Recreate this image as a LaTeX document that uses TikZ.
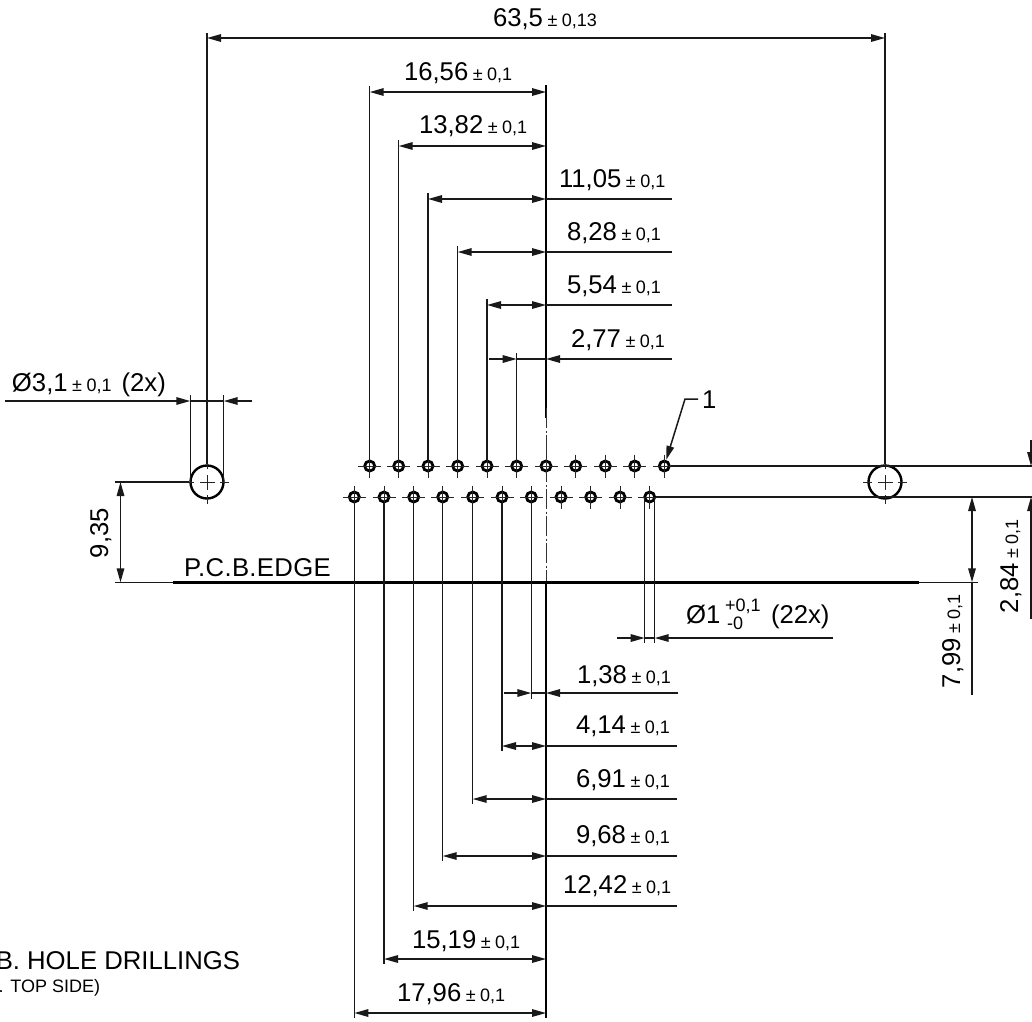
\documentclass[tikz,border=0pt]{standalone}
\usepackage{fontspec}
\setmainfont{Liberation Sans}
\usetikzlibrary{arrows.meta}
\newcommand{\bigf}{\fontsize{25.7}{28}\selectfont}
\newcommand{\smf}{\fontsize{18}{20}\selectfont}
\newcommand{\dmt}[2]{\bigf #1\hspace{4.5pt}\smf ±\hspace{4.5pt}#2}
\tikzset{
  ln/.style={line width=1.5pt,black!90},
  thickln/.style={line width=2.1pt,black},
  dimtip/.style={{Triangle[length=14pt,width=7.5pt]}-{Triangle[length=14pt,width=7.5pt]}},
  tipend/.style={-{Triangle[length=14pt,width=7.5pt]}},
  lab/.style={anchor=base west,inner sep=0pt,outer sep=0pt,black},
  labr/.style={anchor=base east,inner sep=0pt,outer sep=0pt,black},
  hole/.style={circle,draw=black,line width=2.8pt,minimum size=10pt,inner sep=0pt},
  bighole/.style={circle,draw=black,line width=2.4pt,minimum size=33pt,inner sep=0pt},
  crossln/.style={line width=1pt,black!85}
}
\begin{document}
\begin{tikzpicture}[x=1pt,y=-1pt]
\useasboundingbox (0,0) rectangle (1032,1021);
\clip (0,0) rectangle (1032,1021);
\fill[white] (0,0) rectangle (1032,1021);
% holes
\foreach \n/\x in {1/369.7,2/398.7,3/428,4/457.7,5/487,6/516.7,7/546,8/575.7,9/605.3,10/634.7,11/664.3}{
  \node[hole] (t\n) at (\x,466) {};
  \draw[crossln] (t\n.center) ++(-11.5,0) -- ++(23,0);
  \draw[crossln] (t\n.center) ++(0,-11.5) -- ++(0,23);
}
\foreach \n/\x in {1/354.3,2/384,3/413.7,4/442.7,5/472.7,6/502,7/531.3,8/561,9/590.7,10/620,11/649.7}{
  \node[hole] (b\n) at (\x,497) {};
  \draw[crossln] (b\n.center) ++(-11.5,0) -- ++(23,0);
  \draw[crossln] (b\n.center) ++(0,-11.5) -- ++(0,23);
}
\foreach \h/\x in {hl/207,hr/885}{
  \node[bighole] (\h) at (\x,482) {};
  \foreach \a in {0,90,180,270}{
    \draw[crossln,rotate around={\a:(\h.center)}] (\h.center) -- ++(7.5,0);
    \draw[crossln,rotate around={\a:(\h.center)}] (\x+13,482) -- ++(9,0);
  }
}
% reference coordinates
\coordinate (cl) at (546,466);
\coordinate (edgeL) at (115,582.3);
\coordinate (edgeA) at (173,582.3);
\coordinate (edgeB) at (919,582.3);
\coordinate (edgeR) at (978,582.3);
% centre line
\draw[thickln] (546,85) -- (546,418);
\draw[line width=1pt,black!80,dash pattern=on 20pt off 2.5pt on 2pt off 2.5pt] (546,408) -- (546,582);
\draw[thickln] (546,582) -- (546,1018);
% pcb edge
\draw[ln] (edgeL) -- (edgeA);
\draw[line width=3pt] (edgeA) -- (edgeB);
\draw[ln] (edgeB) -- (edgeR);
\node[lab] (pcb) at (184,576.7) {\bigf\addfontfeatures{LetterSpace=1.3}P.C.B.EDGE};
% overall dimension
\draw[ln] (hl) -- (207,33);
\draw[ln] (hr) -- (885,33);
\draw[ln,dimtip] (207,38) -- (885,38);
\node[lab] (d635) at (493,26) {\dmt{63,5}{0,13}};
% top group
\draw[ln] (t1) -- (t1 |- 0,86);
\draw[ln,dimtip] (t1 |- 0,92) -- (546,92);
\node[lab] (d1656) at (404,80) {\dmt{16,56}{0,1}};
\draw[ln] (t2) -- (t2 |- 0,140);
\draw[ln,dimtip] (t2 |- 0,146) -- (546,146);
\node[lab] (d1382) at (419,133) {\dmt{13,82}{0,1}};
\draw[ln] (t3) -- (t3 |- 0,193);
\draw[ln,dimtip] (t3 |- 0,199) -- (546,199);
\draw[ln] (546,199) -- (672,199);
\node[lab] (d1105) at (559,187) {\dmt{11,05}{0,1}};
\draw[ln] (t4) -- (t4 |- 0,246);
\draw[ln,dimtip] (t4 |- 0,252) -- (546,252);
\draw[ln] (546,252) -- (672,252);
\node[lab] (d828) at (567,240) {\dmt{8,28}{0,1}};
\draw[ln] (t5) -- (t5 |- 0,299);
\draw[ln,dimtip] (t5 |- 0,305) -- (546,305);
\draw[ln] (546,305) -- (672,305);
\node[lab] (d554) at (567,293) {\dmt{5,54}{0,1}};
\draw[ln] (t6) -- (t6 |- 0,353);
\draw[ln,tipend] (489,359) -- (t6 |- 0,359);
\draw[ln] (t6 |- 0,359) -- (546,359);
\draw[ln,tipend] (672,359) -- (546,359);
\node[lab] (d277) at (571,347) {\dmt{2,77}{0,1}};
% left hole diameter
\draw[ln] (190.3,395) -- (190.3,482);
\draw[ln] (223.7,395) -- (223.7,482);
\draw[ln,tipend] (5,401) -- (190.3,401);
\draw[ln,tipend] (252,401) -- (223.7,401);
\draw[ln] (190.3,401) -- (223.7,401);
\node[lab] (d31) at (12,391) {\bigf Ø3,1\hspace{4.5pt}\smf ±\hspace{4.5pt}0,1\hspace{10pt}\bigf (2x)};
% 9,35
\draw[ln] (115,482) -- (hl);
\draw[ln,dimtip] (120.5,482) -- (120.5,582.3);
\node[lab,rotate=90] (d935) at (108,558) {\bigf 9,35};
% right side
\draw[ln] (t11) -- (1032,466);
\draw[ln] (b11) -- (1032,497);
\draw[ln,tipend] (1031,440) -- (1031,466);
\draw[ln,tipend] (1031,619) -- (1031,497);
\node[lab,rotate=90] (d284) at (1018,613) {\dmt{2,84}{0,1}};
\draw[ln,dimtip] (972,497) -- (972,582.3);
\draw[ln] (972,582.3) -- (972,695);
\node[lab,rotate=90] (d799) at (960,688) {\dmt{7,99}{0,1}};
% pin 1 leader
\coordinate (ldA) at (698,399);
\coordinate (ldB) at (685,399);
\draw[ln,tipend] (ldA) -- (ldB) -- (t11);
\node[lab] (pin1) at (702,408) {\bigf 1};
% small hole diameter
\draw[ln] (644.7,497) -- (644.7,643);
\draw[ln] (654.7,497) -- (654.7,643);
\draw[ln,tipend] (617,638) -- (644.7,638);
\draw[ln,tipend] (833,638) -- (654.7,638);
\draw[ln] (644.7,638) -- (654.7,638);
\node[lab] (d1a) at (686,623) {\bigf Ø1};
\node[lab] (d1b) at (725,611) {\smf +0,1};
\node[lab] (d1c) at (727,629) {\smf -0};
\node[lab] (d1d) at (771,623) {\bigf (22x)};
% lower group
\draw[ln] (b7) -- (b7 |- 0,699);
\draw[ln,tipend] (504,693) -- (b7 |- 0,693);
\draw[ln] (b7 |- 0,693) -- (546,693);
\draw[ln,tipend] (678,693) -- (546,693);
\node[lab] (d138) at (577,683) {\dmt{1,38}{0,1}};
\draw[ln] (b6) -- (b6 |- 0,751);
\draw[ln,dimtip] (b6 |- 0,746) -- (546,746);
\draw[ln] (546,746) -- (677,746);
\node[lab] (d414) at (576,733) {\dmt{4,14}{0,1}};
\draw[ln] (b5) -- (b5 |- 0,804);
\draw[ln,dimtip] (b5 |- 0,799) -- (546,799);
\draw[ln] (546,799) -- (677,799);
\node[lab] (d691) at (576,787) {\dmt{6,91}{0,1}};
\draw[ln] (b4) -- (b4 |- 0,861);
\draw[ln,dimtip] (b4 |- 0,856) -- (546,856);
\draw[ln] (546,856) -- (677,856);
\node[lab] (d968) at (576,843) {\dmt{9,68}{0,1}};
\draw[ln] (b3) -- (b3 |- 0,911);
\draw[ln,dimtip] (b3 |- 0,906) -- (546,906);
\draw[ln] (546,906) -- (677,906);
\node[lab] (d1242) at (563,893) {\dmt{12,42}{0,1}};
\draw[ln] (b2) -- (b2 |- 0,964);
\draw[ln,dimtip] (b2 |- 0,959) -- (546,959);
\node[lab] (d1519) at (412,948) {\dmt{15,19}{0,1}};
\draw[ln] (b1) -- (b1 |- 0,1018);
\draw[ln,dimtip] (b1 |- 0,1013) -- (546,1013);
\node[lab] (d1796) at (397,1001) {\dmt{17,96}{0,1}};
% title fragments
\node[labr] (ttl) at (240,969) {\bigf B. HOLE DRILLINGS};
\node[labr] (sub) at (100,992) {\smf . TOP SIDE)};
\end{tikzpicture}
\end{document}
